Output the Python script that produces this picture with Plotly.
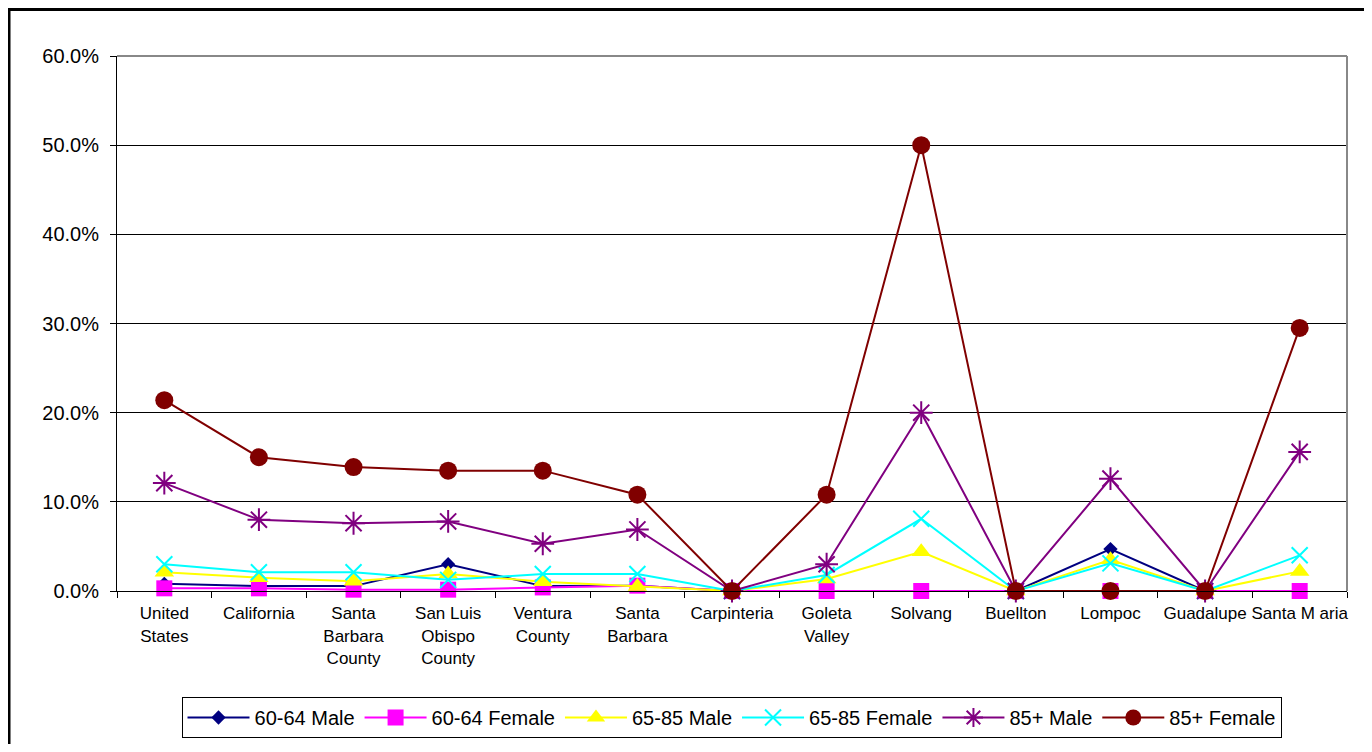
import plotly.graph_objects as go

categories = ["United<br>States", "California", "Santa<br>Barbara<br>County", "San Luis<br>Obispo<br>County",
              "Ventura<br>County", "Santa<br>Barbara", "Carpinteria", "Goleta<br>Valley", "Solvang",
              "Buellton", "Lompoc", "Guadalupe", "Santa M aria"]

m6064 = [0.8, 0.55, 0.55, 3.0, 0.55, 0.6, 0.0, 0.0, 0.0, 0.0, 4.7, 0.0, 0.0]
f6064 = [0.3, 0.3, 0.15, 0.15, 0.4, 0.6, 0.0, 0.0, 0.0, 0.0, 0.0, 0.0, 0.0]
m6585 = [2.1, 1.5, 1.1, 1.9, 1.05, 0.5, 0.0, 1.35, 4.4, 0.0, 3.5, 0.0, 2.2]
f6585 = [3.0, 2.1, 2.1, 1.25, 1.9, 1.9, 0.0, 1.8, 8.1, 0.0, 3.1, 0.0, 4.0]
m85 = [12.1, 8.0, 7.6, 7.8, 5.3, 6.9, 0.0, 3.0, 20.0, 0.0, 12.6, 0.0, 15.6]
f85 = [21.4, 15.0, 13.9, 13.5, 13.5, 10.8, 0.0, 10.8, 50.0, 0.0, 0.0, 0.0, 29.5]

series = [
    ("60-64 Male", m6064, "#000080", dict(symbol="diamond", size=11, color="#000080")),
    ("60-64 Female", f6064, "#FF00FF", dict(symbol="square", size=16, color="#FF00FF")),
    ("65-85 Male", m6585, "#FFFF00", dict(symbol="triangle-up", size=17, color="#FFFF00")),
    ("65-85 Female", f6585, "#00FFFF", dict(symbol="x-thin", size=16, color="#00FFFF", line=dict(color="#00FFFF", width=2))),
    ("85+ Male", m85, "#800080", dict(symbol="asterisk", size=19, color="#800080", line=dict(color="#800080", width=2))),
    ("85+ Female", f85, "#800000", dict(symbol="circle", size=18, color="#800000")),
]

fig = go.Figure()
for name, vals, col, mk in series:
    fig.add_trace(go.Scatter(
        x=categories, y=[v / 100 for v in vals], name=name, mode="lines+markers",
        line=dict(color=col, width=2), marker=mk, cliponaxis=False))

W, H = 1356, 736
L, R, T, B = 109, 17, 48, 153
plot_h = H - T - B
plot_w = W - L - R

fig.update_layout(
    width=W, height=H, autosize=False,
    paper_bgcolor="white", plot_bgcolor="white",
    margin=dict(l=L, r=R, t=T, b=B, autoexpand=False),
    font=dict(family="Liberation Sans, Arial, sans-serif", color="black", size=17),
    showlegend=True,
    legend=dict(orientation="h", x=0.4996, xanchor="center", y=-106 / plot_h, yanchor="top",
                bordercolor="black", borderwidth=1, font=dict(size=20),
                itemwidth=62, tracegroupgap=0),
    xaxis=dict(type="category", range=[-0.5, 12.5], showgrid=False,
               showline=True, linecolor="black", linewidth=1, mirror=False,
               ticks="outside", tickson="boundaries", ticklen=6, tickcolor="black",
               tickangle=0, automargin=False,
               ticklabelstandoff=7, tickfont=dict(size=17), zeroline=False),
    yaxis=dict(range=[0, 0.6], dtick=0.1, tickformat=".1%", showgrid=True,
               gridcolor="#000000", gridwidth=1, showline=True, linecolor="black",
               linewidth=1, ticks="outside", ticklen=6, tickcolor="black", automargin=False,
               ticklabelstandoff=7, zeroline=False, tickfont=dict(size=20)),
    shapes=[
        dict(type="line", xref="paper", yref="paper", x0=1.0, x1=1.0, y0=0, y1=1,
             line=dict(color="#888888", width=2)),
        dict(type="line", xref="paper", yref="paper", x0=0, x1=1.0, y0=1, y1=1,
             line=dict(color="#888888", width=2)),
        dict(type="rect", xref="paper", yref="paper", x0=(1 - L) / plot_w, x1=(W + 10 - L) / plot_w,
             y0=-(B + 10) / plot_h, y1=(plot_h + T - 1.5) / plot_h, line=dict(color="black", width=3)),
    ],
)

fig.write_html("out.html")
